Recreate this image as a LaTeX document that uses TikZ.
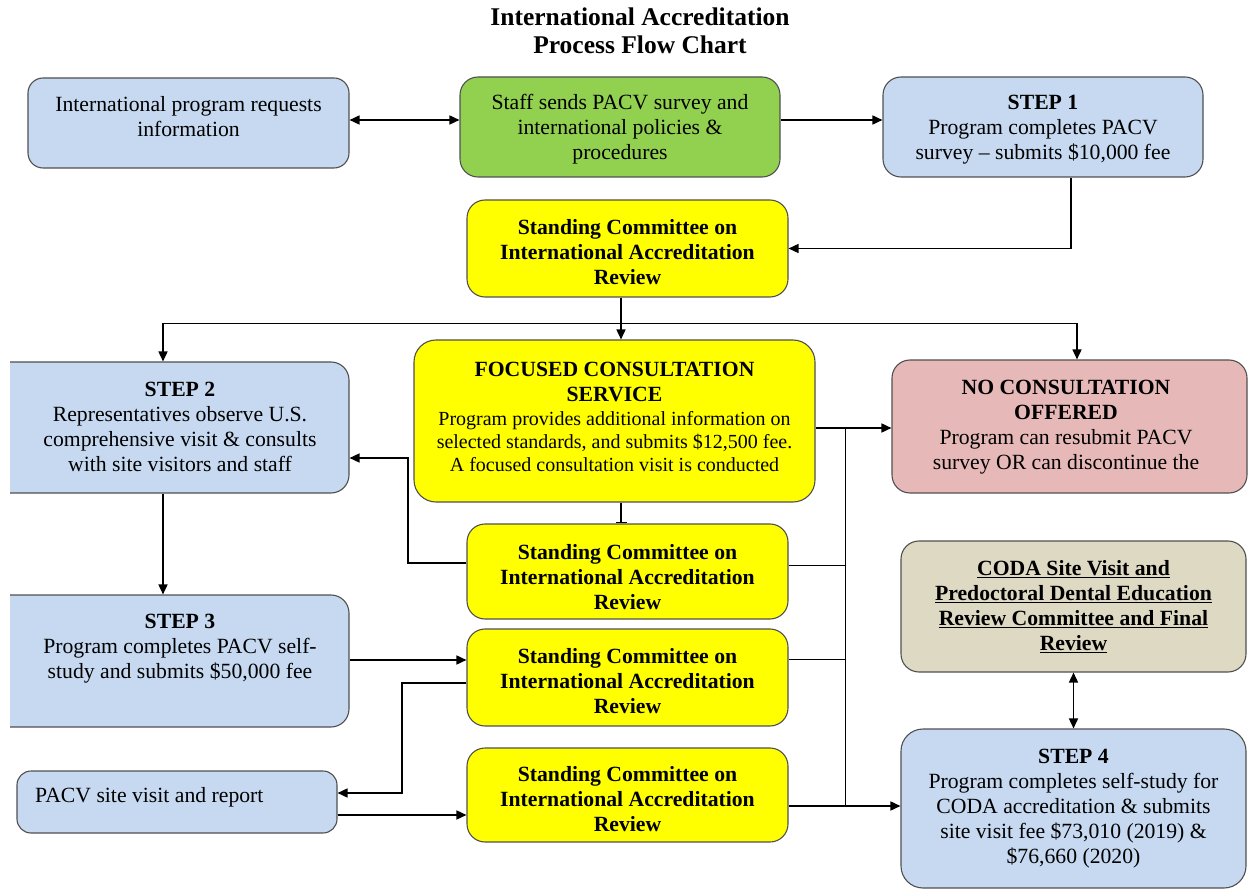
\documentclass[tikz,border=0pt]{standalone}
\usepackage{fontspec}
\setmainfont{Liberation Serif}
\usetikzlibrary{arrows.meta}
\definecolor{lblue}{HTML}{C6D9F1}
\definecolor{lgreen}{HTML}{92D050}
\definecolor{yel}{HTML}{FFFF00}
\definecolor{pinkbox}{HTML}{E6B9B8}
\definecolor{tan}{HTML}{DDD9C3}
\definecolor{boxline}{HTML}{505050}
\begin{document}
\begin{tikzpicture}[x=1pt,y=-1pt,
  box/.style={draw=boxline, line width=1.1pt, rounded corners=18pt, inner sep=0pt},
  txt/.style={align=center, font=\fontsize{21.7}{25}\selectfont, inner sep=0pt, yshift=-2pt},
  conn/.style={line width=1.6pt},
  thinline/.style={line width=0.9pt},
  arr/.style={conn, -{Triangle[length=10pt,width=9pt]}},
  dblarr/.style={conn, {Triangle[length=10pt,width=9pt]}-{Triangle[length=10pt,width=9pt]}}
]
\useasboundingbox (0,0) rectangle (1248,890);

% title
\node[txt, yshift=2pt, font=\fontsize{25.5}{28}\selectfont\bfseries] (T) at (640,31) {International Accreditation\\Process Flow Chart};

% top row
\node[box, fill=lblue, rounded corners=15pt, minimum width=321, minimum height=90] (A) at (188.5,123) {};
\node[txt] (At) at (188.5,115) {International program requests\\information};

\node[box, fill=lgreen, minimum width=320, minimum height=100] (B) at (620,127) {};
\node[txt] (Bt) at (620,127.5) {Staff sends PACV survey and\\international policies \&\\procedures};

\node[box, fill=lblue, minimum width=320, minimum height=100] (C) at (1043,127) {};
\node[txt] (Ct) at (1043,127.5) {\textbf{STEP 1}\\Program completes PACV\\survey – submits \$10,000 fee};

\node[box, fill=yel, minimum width=321, minimum height=97] (D) at (627.5,248.5) {};
\node[txt, font=\fontsize{21.7}{25}\selectfont\bfseries] (Dt) at (627.5,250) {Standing Committee on\\International Accreditation\\Review};

% left column (cut at left edge)
\begin{scope}
\clip (10,330) rectangle (400,760);
\node[box, fill=lblue, minimum width=372, minimum height=131] (S2) at (163,427.5) {};
\node[box, fill=lblue, minimum width=372, minimum height=132] (S3) at (163,661) {};
\end{scope}
\node[txt] (S2t) at (180,425) {\textbf{STEP 2}\\Representatives observe U.S.\\comprehensive visit \& consults\\with site visitors and staff};
\node[txt] (S3t) at (180,647) {\textbf{STEP 3}\\Program completes PACV self-\\study and submits \$50,000 fee};

\node[box, fill=lblue, rounded corners=14pt, minimum width=320, minimum height=62] (P) at (177,802) {};
\node[txt, anchor=west] (Pt) at (35,795) {PACV site visit and report};

% focused consultation
\node[box, fill=yel, rounded corners=22pt, minimum width=401, minimum height=162] (F) at (614.5,421) {};
\node[txt] (Ft) at (614.5,415) {\textbf{FOCUSED CONSULTATION}\\\textbf{SERVICE}\\[-1pt]
{\fontsize{20}{23}\selectfont Program provides additional information on}\\[-2pt]
{\fontsize{20}{23}\selectfont selected standards, and submits \$12,500 fee.}\\[-2pt]
{\fontsize{20}{23}\selectfont A focused consultation visit is conducted}};

% no consultation
\node[box, fill=pinkbox, minimum width=355, minimum height=133] (N) at (1069.5,426.5) {};
\node[txt] (Nt) at (1066,425) {\textbf{NO CONSULTATION}\\\textbf{OFFERED}\\Program can resubmit PACV\\survey OR can discontinue the};

% committees
\node[box, fill=yel, minimum width=321, minimum height=95] (C2) at (627.5,571.5) {};
\node[txt, font=\fontsize{21.7}{25}\selectfont\bfseries] (C2t) at (627.5,575) {Standing Committee on\\International Accreditation\\Review};
\node[box, fill=yel, minimum width=321, minimum height=97] (C3) at (627.5,677.5) {};
\node[txt, font=\fontsize{21.7}{25}\selectfont\bfseries] (C3t) at (627.5,679) {Standing Committee on\\International Accreditation\\Review};
\node[box, fill=yel, minimum width=321, minimum height=94] (C4) at (627.5,795) {};
\node[txt, font=\fontsize{21.7}{25}\selectfont\bfseries] (C4t) at (627.5,797) {Standing Committee on\\International Accreditation\\Review};

% right column
\node[box, fill=tan, minimum width=345, minimum height=131] (CODA) at (1073.5,606.5) {};
\node[txt, font=\fontsize{21.7}{25}\selectfont\bfseries] (CODAt) at (1073.5,605) {\underline{CODA Site Visit and}\\\underline{Predoctoral Dental Education}\\\underline{Review Committee and Final}\\\underline{Review}};

\node[box, fill=lblue, rounded corners=22pt, minimum width=345, minimum height=159] (S4) at (1073.5,808.5) {};
\node[txt] (S4t) at (1073.5,807) {\textbf{STEP 4}\\Program completes self-study for\\CODA accreditation \& submits\\site visit fee \$73,010 (2019) \&\\\$76,660 (2020)};

% helper coordinates
\coordinate (h120) at (0,120);
\coordinate (c1) at (1071,0);
\coordinate (J) at (621,323);
\coordinate (JL) at (163,323);
\coordinate (JR) at (1077,323);
\coordinate (K) at (845,428);
\coordinate (K2) at (845,806);
\coordinate (h565) at (0,565);
\coordinate (h659) at (0,659);
\coordinate (h563) at (0,563);
\coordinate (h660) at (0,660);
\coordinate (h683) at (0,683);
\coordinate (h815) at (0,815);
\coordinate (M1) at (408,458);
\coordinate (M2) at (402,793);

% connectors
\draw[dblarr] (A.east |- h120) -- (B.west |- h120);
\draw[arr] (B.east |- h120) -- (C.west |- h120);
\draw[arr] (C.south -| c1) |- (D.east);
\draw[conn] (D.south -| J) -- (J);
\draw[thinline] (JL) -- (JR);
\draw[arr] (JL) -- (JL |- S2.north);
\draw[arr] (J) -- (J |- F.north);
\draw[arr] (JR) -- (JR |- N.north);
\draw[conn, -{Bar[width=11pt,line width=1.8pt]}] (F.south -| J) -- (C2.north -| J);
\draw[arr] (F.east |- K) -- (N.west |- K);
\draw[thinline] (K) -- (K2);
\draw[thinline] (C2.east |- h565) -- (K |- h565);
\draw[thinline] (C3.east |- h659) -- (K |- h659);
\draw[arr] (C4.east |- K2) -- (S4.west |- K2);
\draw[arr] (C2.west |- h563) -| (M1) -- (M1 -| S2.east);
\draw[arr] (S2.south) -- (S3.north);
\draw[arr] (S3.east |- h660) -- (C3.west |- h660);
\draw[arr] (C3.west |- h683) -| (M2) -- (M2 -| P.east);
\draw[arr] (P.east |- h815) -- (C4.west |- h815);
\draw[dblarr] (CODA.south) -- (S4.north);
\end{tikzpicture}
\end{document}
